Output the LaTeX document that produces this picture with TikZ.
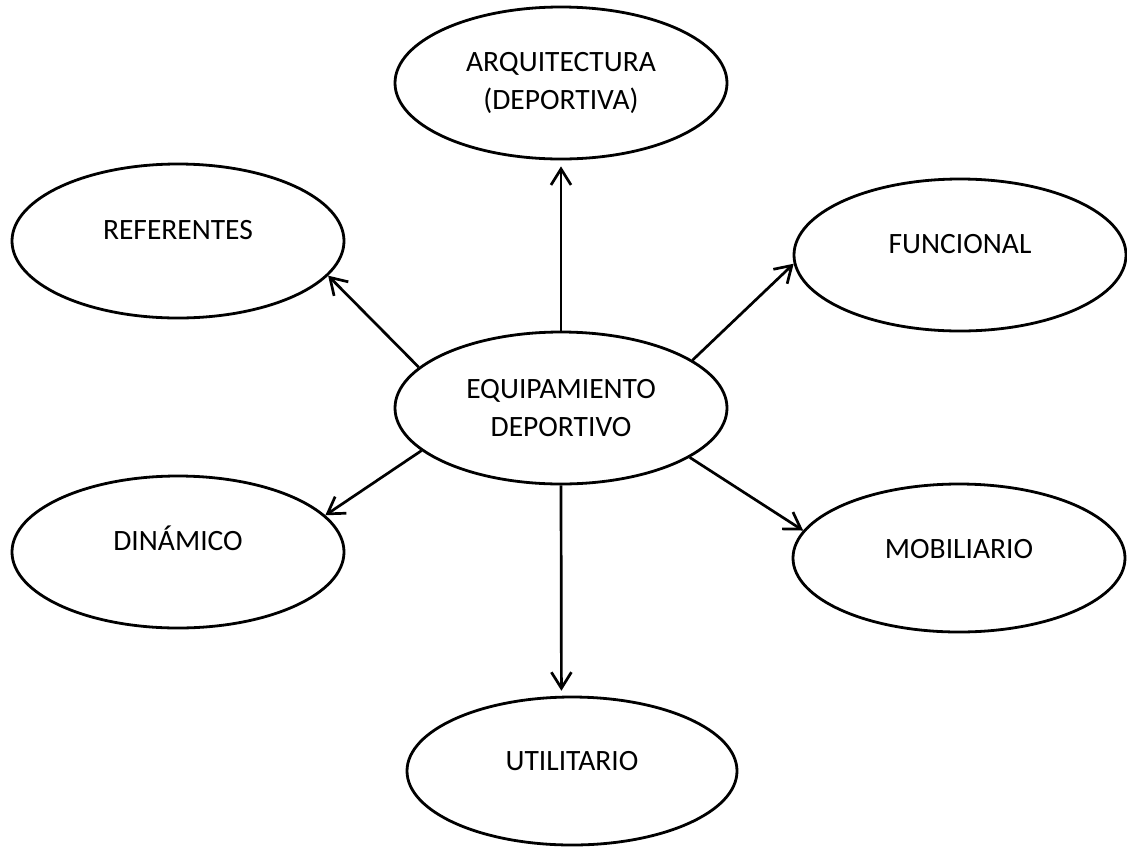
\documentclass[tikz,border=0pt]{standalone}
\usepackage{fontspec}
\setmainfont{Carlito}
\usetikzlibrary{shapes.geometric,arrows.meta}
\tikzset{
  oval/.style={ellipse,draw,line width=2.8pt,inner sep=0pt,minimum width=332pt,minimum height=152pt,font=\fontsize{29.5}{38}\selectfont,align=center},
  conn/.style={line width=2.7pt,-{Straight Barb[length=16pt,width=20pt]}}
}
\newcommand{\upt}[2]{\raisebox{#1}[18pt][0pt]{#2}}
\begin{document}
\begin{tikzpicture}[x=1pt,y=-1pt]
\useasboundingbox (0,0) rectangle (1127,847);
\node[oval] (c) at (561,408) {EQUIPAMIENTO\\DEPORTIVO};
\node[oval] (arq) at (561,83) {ARQUITECTURA\\(DEPORTIVA)};
\node[oval,minimum height=154pt] (ref) at (178,241) {\upt{11pt}{REFERENTES}};
\node[oval] (fun) at (960,255) {\upt{11pt}{FUNCIONAL}};
\node[oval] (din) at (178,552) {\upt{11pt}{DINÁMICO}};
\node[oval,minimum height=148pt] (mob) at (959,558) {\upt{9pt}{MOBILIARIO}};
\node[oval,minimum width=330pt,minimum height=148pt] (uti) at (572,771) {\upt{10pt}{UTILITARIO}};
\draw[conn,shorten >=6pt] (c.north) -- (arq.south);
\draw[conn] (c.164.3) -- (ref.-13.9);
\draw[conn] (c.20.3) -- (fun.183);
\draw[conn] (c.197.2) -- (din.14.7);
\draw[conn] (c.-21.1) -- (mob.170.7);
\draw[conn,shorten >=5pt] (c.south) -- (uti.98.45);
\end{tikzpicture}
\end{document}
